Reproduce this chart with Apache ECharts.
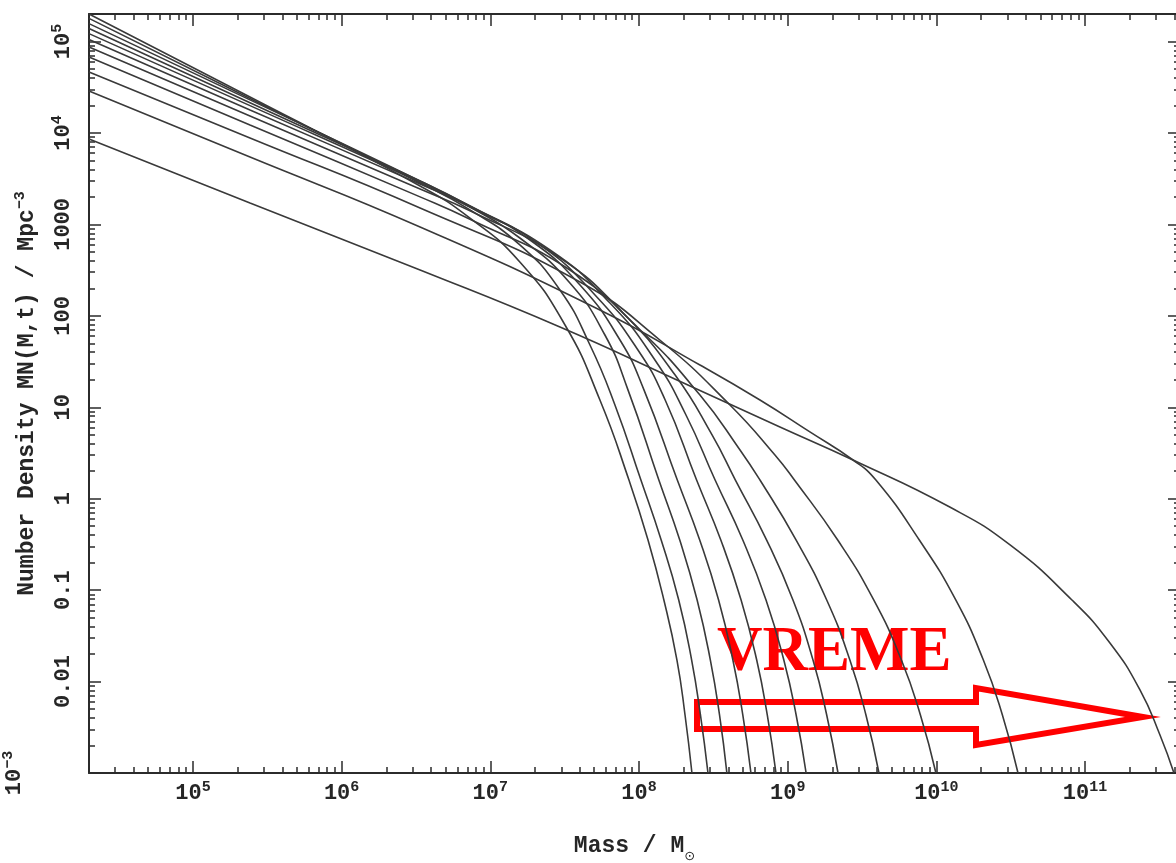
<!DOCTYPE html>
<html>
<head>
<meta charset="utf-8">
<script src="https://cdn.jsdelivr.net/npm/echarts@6/dist/echarts.min.js"></script>
<style>
  html, body { margin: 0; padding: 0; background: #ffffff; }
  #chart { width: 1176px; height: 863px; }
</style>
</head>
<body>
<div id="chart"></div>
<script>
// Halo mass function M·N(M,t) at eleven successive epochs: [mass in M_sun, density in Mpc^-3]
const epoch1 = [[2e4,2.0e5],[2.42e5,2.47e4],[3.37e6,2.63e3],[7.30e6,1.17e3],[1.58e7,388],[3.18e7,79.4],[5.46e7,12.0],[8.56e7,1.60],[1.15e8,0.353],[1.47e8,0.078],[1.80e8,0.0172],[2.04e8,0.00431],[2.27e8,0.001]];
const epoch2 = [[2e4,1.79e5],[2.42e5,2.38e4],[3.37e6,2.84e3],[7.30e6,1.44e3],[1.58e7,596],[2.94e7,192],[4.68e7,48.0],[6.89e7,10.6],[1.03e8,1.60],[1.41e8,0.353],[1.85e8,0.078],[2.26e8,0.0172],[2.59e8,0.00431],[2.91e8,0.001]];
const epoch3 = [[2e4,1.57e5],[2.42e5,2.30e4],[3.37e6,2.98e3],[7.30e6,1.55e3],[1.58e7,710],[3.43e7,229],[5.90e7,61.7],[8.43e7,15.5],[1.36e8,1.60],[1.88e8,0.353],[2.46e8,0.078],[3.02e8,0.0172],[3.48e8,0.00431],[3.90e8,0.001]];
const epoch4 = [[2e4,1.39e5],[2.42e5,2.14e4],[3.37e6,2.98e3],[7.30e6,1.59e3],[1.85e7,675],[4.01e7,217],[7.45e7,54.4],[1.08e8,15.5],[1.81e8,1.60],[2.56e8,0.353],[3.43e8,0.078],[4.28e8,0.0172],[4.99e8,0.00431],[5.66e8,0.001]];
const epoch5 = [[2e4,1.22e5],[2.42e5,1.99e4],[3.37e6,2.91e3],[7.30e6,1.59e3],[2.16e7,596],[5.06e7,169],[9.84e7,42.3],[1.50e8,12.0],[2.44e8,1.60],[3.55e8,0.353],[4.86e8,0.078],[6.19e8,0.0172],[7.29e8,0.00431],[8.34e8,0.001]];
const epoch6 = [[2e4,1.05e5],[2.42e5,1.78e4],[3.37e6,2.77e3],[7.30e6,1.55e3],[2.52e7,525],[6.38e7,138],[1.28e8,32.9],[2.07e8,8.23],[3.25e8,1.60],[4.99e8,0.353],[7.15e8,0.078],[9.42e8,0.0172],[1.14e9,0.00431],[1.33e9,0.001]];
const epoch7 = [[2e4,8.71e4],[2.42e5,1.53e4],[3.37e6,2.44e3],[7.30e6,1.41e3],[2.94e7,430],[8.05e7,102],[1.75e8,22.5],[3.10e8,4.98],[4.45e8,1.60],[7.22e8,0.353],[1.085e9,0.078],[1.48e9,0.0172],[1.83e9,0.00431],[2.18e9,0.001]];
const epoch8 = [[2e4,6.78e4],[2.42e5,1.22e4],[3.37e6,2.00e3],[7.30e6,1.14e3],[3.43e7,317],[1.02e8,70.0],[2.57e8,13.6],[4.78e8,3.41],[6.51e8,1.60],[1.14e9,0.353],[1.83e9,0.078],[2.62e9,0.0172],[3.36e9,0.00431],[4.11e9,0.001]];
const epoch9 = [[2e4,4.65e4],[2.42e5,8.81e3],[3.37e6,1.51e3],[4.01e7,234],[1.38e8,54.4],[4.09e8,10.6],[8.21e8,3.01],[1.11e9,1.60],[2.17e9,0.353],[3.79e9,0.078],[5.82e9,0.0172],[7.81e9,0.00431],[9.93e9,0.001]];
const epoch10 = [[2e4,2.88e4],[2.42e5,5.46e3],[3.37e6,938],[5.46e7,116],[2.57e8,29.0],[6.51e8,12.0],[1.41e9,5.37],[2.75e9,2.65],[3.92e9,1.60],[7.68e9,0.353],[1.35e10,0.078],[2.07e10,0.0172],[2.78e10,0.00431],[3.54e10,0.001]];
const epoch11 = [[2e4,8.6e3],[2.42e5,1.71e3],[3.37e6,317],[2.94e7,75.5],[1.80e8,19.9],[8.87e8,6.08],[2.75e9,2.65],[1.23e10,0.81],[3.13e10,0.312],[8.16e10,0.078],[1.47e11,0.0264],[2.34e11,0.0081],[3.19e11,0.0026],[3.96e11,0.001]];

// Axis ticks and their printed labels ('^' marks a superscript)
const massTicks = [1e5, 1e6, 1e7, 1e8, 1e9, 1e10, 1e11];
const massTickLabels = ['10^5', '10^6', '10^7', '10^8', '10^9', '10^10', '10^11'];
const densityTicks = [1e-3, 1e-2, 1e-1, 1, 10, 100, 1000, 1e4, 1e5];
const densityTickLabels = ['10^\u22123', '0.01', '0.1', '1', '10', '100', '1000', '10^4', '10^5'];

const massRange = [2e4, 4.35e11];
const densityRange = [1e-3, 2e5];

const curves = [epoch1, epoch2, epoch3, epoch4, epoch5, epoch6, epoch7, epoch8, epoch9, epoch10, epoch11];

// Decade sub-divisions (2..9 x 10^k) for the minor tick marks
function minorTicks(range) {
  const out = [];
  const lo = Math.floor(Math.log10(range[0]));
  const hi = Math.ceil(Math.log10(range[1]));
  for (let e = lo; e <= hi; e++) {
    for (let m = 2; m <= 9; m++) {
      const v = m * Math.pow(10, e);
      if (v >= range[0] && v <= range[1]) out.push(v);
    }
  }
  return out;
}

function richLabel(text) {
  const k = text.indexOf('^');
  if (k < 0) return '{b|' + text + '}';
  return '{b|' + text.slice(0, k) + '}{s|' + text.slice(k + 1) + '}';
}

function labelFor(ticks, labels) {
  return function (value) {
    for (let i = 0; i < ticks.length; i++) {
      if (Math.abs(Math.log10(value) - Math.log10(ticks[i])) < 1e-6) return richLabel(labels[i]);
    }
    return '';
  };
}

const FONT = '"Liberation Mono", "DejaVu Sans Mono", monospace';
const INK = '#2b2b2b';
const TEXT = '#262626';
const tickRich = {
  b: { fontFamily: FONT, fontWeight: 'bold', fontSize: 22, color: TEXT, lineHeight: 24, verticalAlign: 'bottom' },
  s: { fontFamily: FONT, fontWeight: 'bold', fontSize: 15, color: TEXT, lineHeight: 15, verticalAlign: 'top' }
};
const frameLine = { show: true, onZero: false, lineStyle: { color: INK, width: 2 } };
const tickLine = { color: INK, width: 1.5 };
const hidden = { show: false };

function axis(position, range, ticks, minor, extra) {
  return Object.assign({
    type: 'log',
    logBase: 10,
    position: position,
    min: range[0],
    max: range[1],
    splitLine: hidden,
    minorTick: hidden,
    axisLine: minor ? { show: false, onZero: false } : frameLine,
    axisTick: {
      show: true,
      inside: true,
      length: minor ? 6 : 12,
      customValues: ticks,
      lineStyle: tickLine
    },
    axisLabel: hidden,
    silent: true
  }, extra || {});
}

function densityLabels(values, margin) {
  return {
    show: true,
    customValues: values,
    rotate: 90,
    margin: margin,
    formatter: labelFor(densityTicks, densityTickLabels),
    rich: tickRich
  };
}

const xMinor = minorTicks(massRange);
const yMinor = minorTicks(densityRange);

const chart = echarts.init(document.getElementById('chart'), null, { renderer: 'canvas' });

chart.setOption({
  backgroundColor: '#ffffff',
  animation: false,
  grid: { left: 89, top: 14, width: 1091, height: 759, containLabel: false, outerBoundsMode: 'none' },
  xAxis: [
    axis('bottom', massRange, massTicks, false, {
      axisLabel: {
        show: true,
        customValues: massTicks,
        margin: 7,
        formatter: labelFor(massTicks, massTickLabels),
        rich: tickRich
      },
      name: '{b|Mass / M}{sub|\u2299}',
      nameLocation: 'middle',
      nameGap: 62,
      nameTextStyle: {
        rich: {
          b: { fontFamily: FONT, fontWeight: 'bold', fontSize: 23, color: TEXT, lineHeight: 28, verticalAlign: 'top' },
          sub: { fontFamily: '"DejaVu Sans", sans-serif', fontSize: 13, color: TEXT, lineHeight: 14, verticalAlign: 'bottom' }
        }
      }
    }),
    axis('bottom', massRange, xMinor, true),
    axis('top', massRange, massTicks, false),
    axis('top', massRange, xMinor, true)
  ],
  yAxis: [
    axis('left', densityRange, densityTicks, false, {
      axisLabel: densityLabels(densityTicks.slice(1), 15),
      name: '{b|Number Density MN(M,t) / Mpc}{s|\u22123}',
      nameLocation: 'middle',
      nameGap: 50,
      nameTextStyle: {
        rich: {
          b: { fontFamily: FONT, fontWeight: 'bold', fontSize: 23, color: TEXT, lineHeight: 26, verticalAlign: 'bottom' },
          s: { fontFamily: FONT, fontWeight: 'bold', fontSize: 15, color: TEXT, lineHeight: 15, verticalAlign: 'top' }
        }
      }
    }),
    // the lowest decade label is printed far out to the left
    axis('left', densityRange, yMinor, true, {
      axisLabel: densityLabels(densityTicks.slice(0, 1), 64)
    }),
    axis('right', densityRange, densityTicks, false),
    axis('right', densityRange, yMinor, true)
  ],
  series: curves.map(function (d, i) {
    return {
      name: 'epoch ' + (i + 1),
      type: 'line',
      xAxisIndex: 0,
      yAxisIndex: 0,
      data: d,
      symbol: 'none',
      showSymbol: false,
      smooth: 0.5,
      clip: true,
      silent: true,
      lineStyle: { color: '#3a3a3a', width: 1.6 }
    };
  }),
  graphic: [
    {
      type: 'text',
      left: 717,
      top: 622,
      silent: true,
      style: {
        text: 'VREME',
        font: 'bold 63px "Liberation Serif", "Times New Roman", serif',
        fill: '#ff0000'
      }
    },
    {
      type: 'polygon',
      silent: true,
      shape: {
        points: [[697, 702], [976, 702], [976, 688], [1143, 717], [976, 745], [976, 729], [697, 729]]
      },
      style: { fill: 'none', stroke: '#ff0000', lineWidth: 6, lineJoin: 'miter' }
    }
  ]
});
</script>
</body>
</html>
